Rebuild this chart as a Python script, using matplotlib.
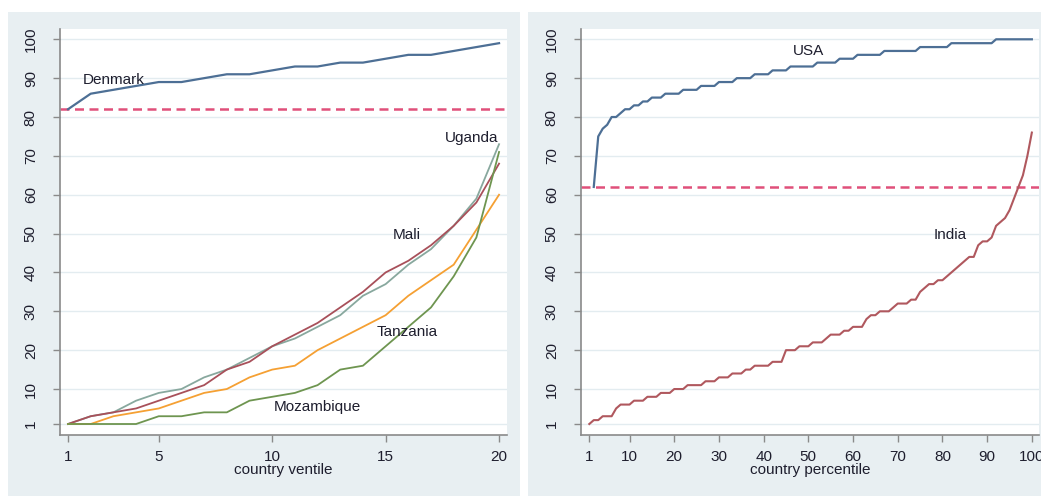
import matplotlib
matplotlib.use("Agg")
import matplotlib.pyplot as plt
from matplotlib.patches import Rectangle

plt.rcParams['font.family'] = ['Liberation Sans Narrow', 'Liberation Sans', 'DejaVu Sans']

# ---------------- data ----------------
ventile = list(range(1, 21))
denmark = [82, 86, 87, 88, 89, 89, 90, 91, 91, 92, 93, 93, 94, 94, 95, 96, 96, 97, 98, 99]
mali = [1, 3, 4, 5, 7, 9, 11, 15, 17, 21, 24, 27, 31, 35, 40, 43, 47, 52, 58, 68]
uganda = [1, 3, 4, 7, 9, 10, 13, 15, 18, 21, 23, 26, 29, 34, 37, 42, 46, 52, 59, 73]
tanzania = [1, 1, 3, 4, 5, 7, 9, 10, 13, 15, 16, 20, 23, 26, 29, 34, 38, 42, 51, 60]
mozambique = [1, 1, 1, 1, 3, 3, 4, 4, 7, 8, 9, 11, 15, 16, 21, 26, 31, 39, 49, 71]
left_ref = 82

usa_pct = list(range(2, 101))
usa = [62, 75, 77, 78, 80, 80, 81, 82, 82, 83, 83, 84, 84, 85, 85, 85, 86, 86, 86, 86,
       87, 87, 87, 87, 88, 88, 88, 88, 89, 89, 89, 89, 90, 90, 90, 90, 91, 91, 91, 91,
       92, 92, 92, 92, 93, 93, 93, 93, 93, 93, 94, 94, 94, 94, 94, 95, 95, 95, 95, 96,
       96, 96, 96, 96, 96, 97, 97, 97, 97, 97, 97, 97, 97, 98, 98, 98, 98, 98, 98, 98,
       99, 99, 99, 99, 99, 99, 99, 99, 99, 99, 100, 100, 100, 100, 100, 100, 100, 100, 100]
india_pct = list(range(1, 101))
india = [1, 2, 2, 3, 3, 3, 5, 6, 6, 6, 7, 7, 7, 8, 8, 8, 9, 9, 9, 10,
         10, 10, 11, 11, 11, 11, 12, 12, 12, 13, 13, 13, 14, 14, 14, 15, 15, 16, 16, 16,
         16, 17, 17, 17, 20, 20, 20, 21, 21, 21, 22, 22, 22, 23, 24, 24, 24, 25, 25, 26,
         26, 26, 28, 29, 29, 30, 30, 30, 31, 32, 32, 32, 33, 33, 35, 36, 37, 37, 38, 38,
         39, 40, 41, 42, 43, 44, 44, 47, 48, 48, 49, 52, 53, 54, 56, 59, 62, 65, 70, 76]
right_ref = 62

yticks = [1, 10, 20, 30, 40, 50, 60, 70, 80, 90, 100]
xticks_left = [1, 5, 10, 15, 20]
xticks_right = [1, 10, 20, 30, 40, 50, 60, 70, 80, 90, 100]

# ---------------- style ----------------
W, H = 1041, 496
panel_bg = '#e8eff2'
grid_c = '#e3ecf0'
spine_c = '#8a8a8a'
text_c = '#1e1e2e'
c_blue = '#4d6f95'
c_maroon = '#a8505a'
c_teal = '#88a89e'
c_orange = '#f5a033'
c_green = '#6e9550'
c_india = '#b0585e'
c_dash = '#e0507a'

fig = plt.figure(figsize=(W / 100, H / 100), dpi=100)
fig.patch.set_facecolor('white')
fig.patches.append(Rectangle((8 / W, 0), (520 - 8) / W, (H - 12) / H,
                             transform=fig.transFigure, facecolor=panel_bg,
                             edgecolor='none', zorder=-10))
fig.patches.append(Rectangle((528 / W, 0), (W - 528) / W, (H - 12) / H,
                             transform=fig.transFigure, facecolor=panel_bg,
                             edgecolor='none', zorder=-10))

ax1 = fig.add_axes([60 / W, 61 / H, 447 / W, 406 / H])
ax2 = fig.add_axes([581 / W, 61 / H, 458 / W, 406 / H])


def style(ax, xticks, xlim, xlabel):
    ax.set_facecolor('white')
    for s in ['top', 'right']:
        ax.spines[s].set_visible(False)
    for s in ['left', 'bottom']:
        ax.spines[s].set_color(spine_c)
        ax.spines[s].set_linewidth(1.2)
    ax.set_ylim(-1.83, 102.65)
    ax.set_xlim(*xlim)
    ax.set_yticks(yticks)
    ax.set_yticklabels([str(t) for t in yticks], rotation=90, va='center')
    ax.set_xticks(xticks)
    ax.set_xticklabels([str(t) for t in xticks])
    ax.tick_params(axis='both', direction='out', length=5, width=1, color=spine_c,
                   labelsize=11, labelcolor=text_c)
    ax.tick_params(axis='y', pad=11)
    ax.tick_params(axis='x', pad=6)
    for t in yticks:
        ax.axhline(t, color=grid_c, lw=1.0, zorder=0)
    ax.set_xlabel(xlabel, fontsize=11, color=text_c, labelpad=-1)


style(ax1, xticks_left, (0.647, 20.35), 'country ventile')
style(ax2, xticks_right, (-0.857, 101.6), 'country percentile')

# left panel
ax1.axhline(left_ref, color=c_dash, lw=1.8, linestyle=(0, (3.6, 2.2)), zorder=2)
ax1.plot(ventile, denmark, color=c_blue, lw=1.6, zorder=3)
ax1.plot(ventile, uganda, color=c_teal, lw=1.3, zorder=3)
ax1.plot(ventile, mali, color=c_maroon, lw=1.3, zorder=3)
ax1.plot(ventile, tanzania, color=c_orange, lw=1.3, zorder=3)
ax1.plot(ventile, mozambique, color=c_green, lw=1.3, zorder=3)

lab_kw = dict(ha='center', va='center', fontsize=11, color=text_c, zorder=4)
ax1.text(3.0, 89.4, 'Denmark', **lab_kw)
ax1.text(18.8, 74.5, 'Uganda', **lab_kw)
ax1.text(15.95, 49.7, 'Mali', **lab_kw)
ax1.text(15.95, 24.6, 'Tanzania', **lab_kw)
ax1.text(12.0, 5.5, 'Mozambique', **lab_kw)

# right panel
ax2.axhline(right_ref, color=c_dash, lw=1.8, linestyle=(0, (3.6, 2.2)), zorder=2)
ax2.plot(usa_pct, usa, color=c_blue, lw=1.6, zorder=3)
ax2.plot(india_pct, india, color=c_india, lw=1.5, zorder=3)
ax2.text(50.0, 97.1, 'USA', **lab_kw)
ax2.text(81.7, 49.6, 'India', **lab_kw)

fig.savefig('out.png', dpi=100, facecolor='white')
